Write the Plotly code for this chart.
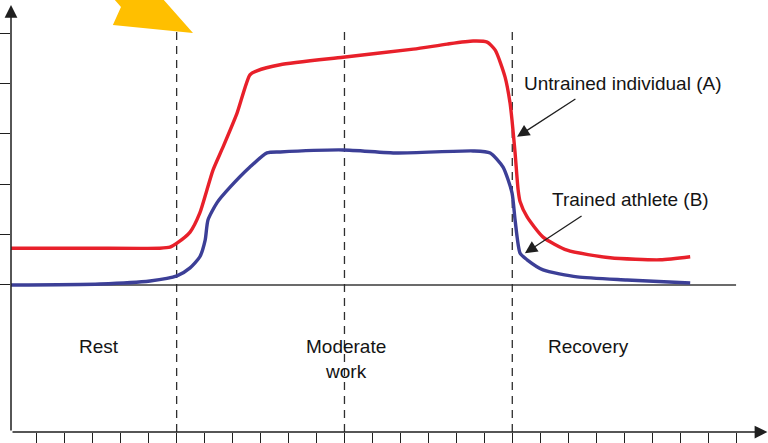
from __future__ import annotations

import plotly.graph_objects as go

# ==========================================
# Data (time units on x, arbitrary units on y)
# ==========================================
UNTRAINED_T = [
    0.08, 2.90, 5.40, 5.76, 6.01, 6.48, 6.83, 7.08, 7.30, 7.66, 8.16, 8.62,
    8.87, 9.70, 11.95, 14.46, 15.67, 16.60, 17.10, 17.39, 17.74, 17.92, 17.99,
    18.10, 18.21, 18.28, 18.53, 19.10, 19.96, 21.50, 23.29, 24.36,
]
UNTRAINED_V = [
    0.73, 0.73, 0.73, 0.75, 0.83, 1.05, 1.43, 1.88, 2.28, 2.74, 3.41, 4.17,
    4.25, 4.37, 4.52, 4.68, 4.78, 4.84, 4.82, 4.66, 4.13, 3.61, 3.27,
    2.62, 1.88, 1.65, 1.35, 0.95, 0.69, 0.54, 0.50, 0.56,
]

TRAINED_T = [
    0.08, 3.26, 5.05, 6.01, 6.48, 6.83, 7.02, 7.12, 7.44, 7.91, 8.62, 9.23,
    9.70, 11.95, 13.88, 16.60, 17.21, 17.67, 17.99, 18.10, 18.28, 18.53,
    19.10, 20.32, 22.10, 24.36,
]
TRAINED_V = [
    0.00, 0.02, 0.08, 0.18, 0.34, 0.56, 0.89, 1.29, 1.63, 1.94, 2.34, 2.62,
    2.64, 2.68, 2.62, 2.66, 2.62, 2.34, 1.83, 1.29, 0.63, 0.50,
    0.30, 0.16, 0.10, 0.04,
]

X_TICKS = list(range(1, 27))
Y_TICKS = [0, 1, 2, 3, 4, 5]
PHASE_BOUNDS = [6, 12, 18]
PHASE_LABELS = ["Rest", "Moderate<br>work", "Recovery"]
PHASE_LABEL_X = [3.21, 12.04, 20.71]

SERIES_LABELS = ["Untrained individual (A)", "Trained athlete (B)"]

RED = "#E8202A"
BLUE = "#3C3F97"
AXIS = "#1f1f1f"
FONT = "Liberation Sans, Arial, sans-serif"

X_RANGE = [0.078, 27.142]
Y_RANGE = [-2.917, 5.655]


def axis_arrow(x0: float, y0: float, x1: float, y1: float, width: float, size: float) -> dict:
    return dict(
        x=x1, y=y1, ax=x0, ay=y0,
        xref="x", yref="y", axref="x", ayref="y",
        text="", showarrow=True,
        arrowhead=2, arrowwidth=width, arrowsize=size, arrowcolor=AXIS,
        standoff=0, startstandoff=0,
    )


def build_figure() -> go.Figure:
    fig = go.Figure()
    fig.add_trace(
        go.Scatter(
            x=UNTRAINED_T, y=UNTRAINED_V, mode="lines",
            line=dict(color=RED, width=3.4, shape="spline", smoothing=0.6),
            name=SERIES_LABELS[0], hoverinfo="skip",
        )
    )
    fig.add_trace(
        go.Scatter(
            x=TRAINED_T, y=TRAINED_V, mode="lines",
            line=dict(color=BLUE, width=3.4, shape="spline", smoothing=0.6),
            name=SERIES_LABELS[1], hoverinfo="skip",
        )
    )

    shapes = [
        dict(type="line", xref="x", yref="y", x0=X_RANGE[0], x1=26.0, y0=0, y1=0,
             line=dict(color="#3a3a3a", width=1.3), layer="below"),
    ]
    for xb in PHASE_BOUNDS:
        shapes.append(
            dict(type="line", xref="x", yref="y", x0=xb, x1=xb, y0=Y_RANGE[0], y1=5.1,
                 line=dict(color="#2e2e2e", width=1.3, dash="8px,6px"), layer="below")
        )
    # yellow bolt cut by the top edge
    shapes.append(
        dict(type="path", xref="x", yref="y",
             path="M3.72,5.70 L4.01,5.516 L3.72,5.159 L6.585,5.0 L5.47,5.70 Z",
             fillcolor="#FFBF00", line=dict(width=0), layer="above")
    )

    annotations = [
        axis_arrow(X_RANGE[0], Y_RANGE[0], 27.12, Y_RANGE[0], 1.5, 1.7),
        axis_arrow(X_RANGE[0], Y_RANGE[0], X_RANGE[0], 5.556, 1.5, 1.7),
        axis_arrow(20.31, 3.71, 18.17, 2.94, 1.3, 1.9),
        axis_arrow(20.53, 1.39, 18.45, 0.63, 1.3, 1.9),
    ]
    for label, lx in zip(PHASE_LABELS, PHASE_LABEL_X):
        two_lines = "<br>" in label
        annotations.append(
            dict(x=lx, y=-1.468 if two_lines else -1.23, xref="x", yref="y",
                 text=label, showarrow=False, xanchor="center", yanchor="middle",
                 font=dict(family=FONT, size=19, color="#141414"))
        )
    annotations.append(
        dict(x=18.35, y=3.99, xref="x", yref="y", text=SERIES_LABELS[0],
             showarrow=False, xanchor="left", yanchor="middle",
             font=dict(family=FONT, size=19, color="#141414"))
    )
    annotations.append(
        dict(x=19.35, y=1.69, xref="x", yref="y", text=SERIES_LABELS[1],
             showarrow=False, xanchor="left", yanchor="middle",
             font=dict(family=FONT, size=19, color="#141414"))
    )

    fig.update_layout(
        width=768, height=443,
        margin=dict(l=11, r=0, t=0, b=11),
        paper_bgcolor="white", plot_bgcolor="white",
        showlegend=False,
        shapes=shapes, annotations=annotations,
        xaxis=dict(range=X_RANGE, showgrid=False, zeroline=False, showline=False,
                   tickvals=X_TICKS, ticks="outside", ticklen=11, tickwidth=1.3,
                   tickcolor=AXIS, showticklabels=False, fixedrange=True),
        yaxis=dict(range=Y_RANGE, showgrid=False, zeroline=False, showline=False,
                   tickvals=Y_TICKS, ticks="outside", ticklen=11, tickwidth=1.3,
                   tickcolor=AXIS, showticklabels=False, fixedrange=True),
    )
    return fig


if __name__ == "__main__":
    fig = build_figure()
    # drop the browser's default 8px body margin so the chart fills the window
    fig.write_html(
        "out.html",
        config={"displayModeBar": False},
        post_script="document.body.style.margin='0';document.body.style.overflow='hidden';",
    )
